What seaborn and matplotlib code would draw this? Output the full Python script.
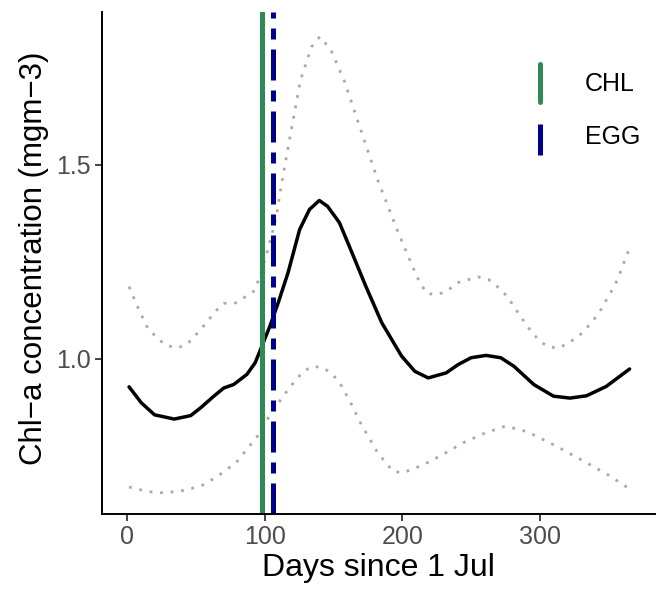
import seaborn as sns
import matplotlib.pyplot as plt
from matplotlib.lines import Line2D
from matplotlib.legend_handler import HandlerLine2D

# ---- data ----
days_mean = [1.4, 10.3, 19.9, 34.2, 46.2, 53.4, 63, 70.2, 77.4, 87, 93, 97.8,
             103.7, 109.7, 116.9, 125.3, 132.5, 139.6, 145.6, 154.2, 161.4,
             173.4, 185, 199.4, 209, 218.7, 231.8, 240.3, 249.9, 260.7, 271.4,
             281, 295.4, 309.7, 321.7, 333.7, 348, 365]
chl_mean = [0.928, 0.887, 0.856, 0.845, 0.854, 0.874, 0.904, 0.925, 0.934, 0.960,
            0.990, 1.032, 1.084, 1.144, 1.222, 1.333, 1.385, 1.408, 1.393, 1.351,
            1.290, 1.187, 1.093, 1.007, 0.968, 0.951, 0.964, 0.985, 1.003, 1.009,
            1.003, 0.981, 0.934, 0.904, 0.899, 0.905, 0.929, 0.974]

days_upper = [1.4, 8, 15.2, 27.2, 35.6, 42.8, 53.6, 64.3, 70.3, 78.7, 85.9, 91.9,
              95.5, 102.7, 108.7, 111.1, 117, 126, 134, 140, 148, 158, 166, 182,
              197, 210, 213.6, 218, 225.7, 233, 239.5, 255, 262.7, 268.7, 274.7,
              279.5, 284.3, 289, 293.9, 299.4, 305.8, 313.7, 321.4, 328.1, 333.9,
              339.4, 344.2, 348.3, 352.6, 356.2, 365]
chl_upper = [1.186, 1.131, 1.077, 1.037, 1.028, 1.035, 1.076, 1.123, 1.143, 1.144,
             1.160, 1.174, 1.203, 1.286, 1.372, 1.428, 1.546, 1.719, 1.804, 1.83,
             1.796, 1.714, 1.629, 1.461, 1.325, 1.216, 1.191, 1.168, 1.166, 1.176,
             1.196, 1.211, 1.204, 1.187, 1.166, 1.143, 1.117, 1.093, 1.069, 1.047,
             1.031, 1.028, 1.043, 1.058, 1.080, 1.103, 1.127, 1.153, 1.179, 1.204,
             1.286]

days_lower = [1.4, 15, 27, 43, 55, 65, 79, 94.5, 102.5, 112, 116.9, 122.9, 128.1,
              134.8, 142.5, 148.7, 154.5, 162.4, 169.5, 182, 193, 200, 215, 230,
              244, 260, 275, 291, 313, 334, 350, 365]
chl_lower = [0.670, 0.658, 0.655, 0.662, 0.675, 0.696, 0.732, 0.80, 0.848, 0.897,
             0.921, 0.947, 0.968, 0.981, 0.977, 0.962, 0.938, 0.887, 0.835, 0.758,
             0.711, 0.706, 0.727, 0.755, 0.784, 0.809, 0.827, 0.812, 0.773, 0.732,
             0.70, 0.665]

event_names = ["CHL", "EGG"]
event_days = [98, 106]
event_colors = ["#2E8B57", "#00008B"]


class VLineHandler(HandlerLine2D):
    # vertical legend keys like ggplot's geom_vline
    def create_artists(self, legend, orig_handle, xdescent, ydescent, width,
                       height, fontsize, trans):
        x = width / 2 - xdescent
        line = Line2D([x, x], [-ydescent, height - ydescent])
        self.update_prop(line, orig_handle, legend)
        line.set_transform(trans)
        return [line]


sns.set_style("white")
plt.rcParams['font.family'] = ['Liberation Sans', 'DejaVu Sans']

fig = plt.figure(figsize=(6.58, 5.89), dpi=100)
ax = fig.add_axes([0.155, 0.127, 0.84, 0.853])

dots = (0, (1, 2.8))
sns.lineplot(x=days_upper, y=chl_upper, ax=ax, color="#A9A9A9", lw=2.0,
             estimator=None, sort=False, linestyle=dots)
sns.lineplot(x=days_lower, y=chl_lower, ax=ax, color="#A9A9A9", lw=2.0,
             estimator=None, sort=False, linestyle=dots)
sns.lineplot(x=days_mean, y=chl_mean, ax=ax, color="black", lw=2.5,
             estimator=None, sort=False)

styles = ["-", (0, (6.2, 2, 2.2, 2))]
handles = []
for name, d, c, ls in zip(event_names, event_days, event_colors, styles):
    ax.axvline(d, color=c, lw=3.6, linestyle=ls)
    handles.append(Line2D([], [], color=c, lw=3.6, linestyle=ls, label=name))

ax.set_xlim(-18.25, 383.25)
ax.set_ylim(0.6, 1.894)
ax.set_xticks([0, 100, 200, 300])
ax.set_yticks([1.0, 1.5])
ax.set_yticklabels(["1.0", "1.5"])

ax.set_xlabel("Days since 1 Jul", fontsize=23, labelpad=3, color="black")
ax.set_ylabel("Chl\u2212a concentration (mgm\u22123)", fontsize=22.5,
              color="black")
ax.yaxis.set_label_coords(-0.095, 0.51)
ax.tick_params(axis="both", labelsize=18, colors="#333333", length=5,
               width=1.3, labelcolor="#4D4D4D", direction="out", pad=3,
               bottom=True, left=True)

sns.despine(ax=ax)
for side in ["left", "bottom"]:
    ax.spines[side].set_color("black")
    ax.spines[side].set_linewidth(1.4)

leg = fig.legend(handles=handles, loc="upper left", frameon=False,
                 bbox_to_anchor=(0.802, 0.891), bbox_transform=fig.transFigure,
                 borderpad=0, borderaxespad=0, fontsize=18, handlelength=1.0,
                 handleheight=1.95, handletextpad=1.3, labelspacing=0.62,
                 handler_map={Line2D: VLineHandler()})
for t in leg.get_texts():
    t.set_color("black")

fig.savefig("out.png", dpi=100)
